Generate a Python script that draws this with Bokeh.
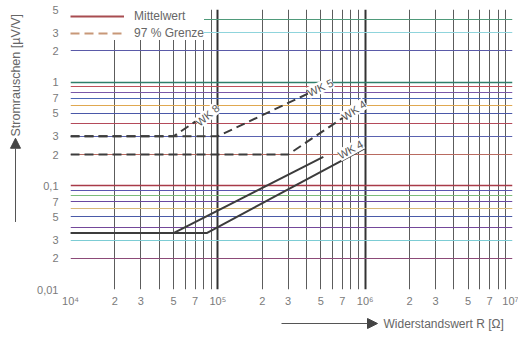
import math
from bokeh.plotting import figure
from bokeh.layouts import column, row
from bokeh.models import (FixedTicker, Grid, Legend, LegendItem, Arrow,
                          NormalHead, Range1d)
from bokeh.core.properties import value
from bokeh.embed import file_html
from bokeh.resources import INLINE

# ---------------- data ----------------
x_ticks = [1e4, 2e4, 3e4, 5e4, 7e4, 1e5, 2e5, 3e5, 5e5, 7e5,
           1e6, 2e6, 3e6, 5e6, 7e6, 1e7]
x_tick_labels = ["10⁴", "2", "3", "5", "7", "10⁵", "2", "3", "5", "7",
                 "10⁶", "2", "3", "5", "7", "10⁷"]
y_ticks = [5, 3, 2, 1, 0.7, 0.5, 0.3, 0.2, 0.1, 0.07, 0.05, 0.03, 0.02, 0.01]
y_tick_labels = ["5", "3", "2", "1", "7", "5", "3", "2", "0,1",
                 "7", "5", "3", "2", "0,01"]

x_grid_minor = [2e4, 3e4, 4e4, 5e4, 6e4, 7e4, 8e4, 9e4,
                2e5, 3e5, 4e5, 5e5, 6e5, 7e5, 8e5, 9e5,
                2e6, 3e6, 4e6, 5e6, 6e6, 7e6, 8e6, 9e6]
x_grid_decades = [1e5, 1e6]

y_grid_vals = [4, 3, 2, 1, 0.9, 0.8, 0.7, 0.6, 0.5, 0.4, 0.3, 0.2,
               0.1, 0.09, 0.08, 0.07, 0.06, 0.05, 0.04, 0.03, 0.02]
y_grid_colors = ["#4f9a7a", "#8fd4dc", "#5a5aa8", "#2f7f6a", "#c0505a",
                 "#7a58a8", "#4a66b4", "#e0a850", "#4a58a8", "#b44a5a",
                 "#5a62b0", "#b86a60", "#a83a48", "#5a56b0", "#7cbc7c",
                 "#6a48a0", "#d8b878", "#4a5aa8", "#74489a", "#7cccd4",
                 "#8c4a78"]

# curves (R in Ohm, noise in uV/V)
wk8_97_x = [1e4, 5e4, 1e5]
wk8_97_y = [0.3, 0.3, 0.58]
wk5_97_x = [1e4, 1e5, 6e5]
wk5_97_y = [0.3, 0.3, 1.0]
wk4_97_x = [1e4, 3e5, 1e6]
wk4_97_y = [0.2, 0.2, 0.63]
mean_a_x = [1e4, 5e4, 5.2e5]
mean_a_y = [0.035, 0.035, 0.19]
wk4_mean_x = [1e4, 8.4e4, 1e6]
wk4_mean_y = [0.035, 0.035, 0.23]

y_title = "Stromrauschen [µV/V]"
x_title = "Widerstandswert R [Ω]"

FONT = "Liberation Sans"
TXT = "#666666"

# ---------------- main chart ----------------
MW, MH = 484, 311
p = figure(width=MW, height=MH, x_axis_type="log", y_axis_type="log",
           x_range=(1e4, 1e7), y_range=(0.01, 5),
           output_backend="svg", toolbar_location=None,
           min_border_left=36, min_border_right=6, min_border_top=9,
           min_border_bottom=22)
p.background_fill_color = "white"
p.border_fill_color = "white"
p.outline_line_color = None
p.xgrid.grid_line_color = None
p.ygrid.grid_line_color = None

p.add_layout(Grid(dimension=0, ticker=FixedTicker(ticks=x_grid_minor),
                  grid_line_color="#5c5c5c", grid_line_width=1))
p.add_layout(Grid(dimension=0, ticker=FixedTicker(ticks=x_grid_decades),
                  grid_line_color="#333333", grid_line_width=2))
p.add_layout(Grid(dimension=0, ticker=FixedTicker(ticks=[1e4]),
                  grid_line_color="#444444", grid_line_width=3))
p.add_layout(Grid(dimension=0, ticker=FixedTicker(ticks=[1e7]),
                  grid_line_color="#777777", grid_line_width=3))
for v, c in zip(y_grid_vals, y_grid_colors):
    w = 1.6 if v in (1, 0.1) else 1
    p.add_layout(Grid(dimension=1, ticker=FixedTicker(ticks=[v]),
                      grid_line_color=c, grid_line_width=w))
p.add_layout(Grid(dimension=1, ticker=FixedTicker(ticks=[5]),
                  grid_line_color="#b84a5a", grid_line_width=3))
p.add_layout(Grid(dimension=1, ticker=FixedTicker(ticks=[0.01]),
                  grid_line_color="#55609a", grid_line_width=3))

for ax, ticks, labels in ((p.xaxis[0], x_ticks, x_tick_labels),
                          (p.yaxis[0], y_ticks, y_tick_labels)):
    ax.ticker = FixedTicker(ticks=ticks)
    ax.major_label_overrides = dict(zip(ticks, labels))
    ax.axis_line_color = None
    ax.major_tick_line_color = None
    ax.minor_tick_line_color = None
    ax.major_tick_out = 0
    ax.major_tick_in = 0
    ax.minor_tick_out = 0
    ax.minor_tick_in = 0
    ax.major_label_text_font = FONT
    ax.major_label_text_font_size = "11px"
    ax.major_label_text_color = "#7a7a7a"
p.yaxis.major_label_standoff = 12
p.xaxis.major_label_standoff = 5

dash = "9 5"
line_col = "#3c3c3c"
p.line(wk8_97_x, wk8_97_y, line_color=line_col, line_width=2, line_dash=dash)
p.line(wk5_97_x, wk5_97_y, line_color=line_col, line_width=2, line_dash=dash)
p.line(wk4_97_x, wk4_97_y, line_color=line_col, line_width=2, line_dash=dash)
p.line(mean_a_x, mean_a_y, line_color=line_col, line_width=2)
p.line(wk4_mean_x, wk4_mean_y, line_color=line_col, line_width=2)

lab_style = dict(text_font=value(FONT), text_font_size="11px", text_color="#555555",
                 text_align="right", background_fill_color="white")
p.text(x=[wk8_97_x[-1]], y=[wk8_97_y[-1]], text=["WK 8"], angle=math.radians(40),
       text_baseline="middle", **lab_style)
p.text(x=[wk5_97_x[-1]], y=[wk5_97_y[-1]], text=["WK 5"], angle=math.radians(25),
       text_baseline="middle", **lab_style)
p.text(x=[wk4_97_x[-1]], y=[wk4_97_y[-1]], text=["WK 4"], angle=math.radians(34),
       text_baseline="middle", **lab_style)
p.text(x=[wk4_mean_x[-1]], y=[wk4_mean_y[-1]], text=["WK 4"], angle=math.radians(29),
       text_baseline="bottom", **lab_style)

nan = float("nan")
leg_mean = p.line(x=[nan], y=[nan], line_color="#a84c50", line_width=2)
leg_97 = p.line(x=[nan], y=[nan], line_color="#c89878", line_width=2, line_dash=dash)
legend = Legend(items=[LegendItem(label="Mittelwert", renderers=[leg_mean]),
                       LegendItem(label="97 % Grenze", renderers=[leg_97])],
                location="top_left", margin=0, padding=7, spacing=3,
                glyph_width=54, glyph_height=12, label_height=12,
                label_standoff=10, label_text_font=FONT,
                label_text_font_size="12px", label_text_color=TXT,
                background_fill_color="white", background_fill_alpha=1.0,
                border_line_color=None)
p.add_layout(legend)

# ---------------- left strip: y title + arrow ----------------
LW, LH = 34, MH
pl = figure(width=LW, height=LH, x_range=Range1d(0, LW), y_range=Range1d(LH, 0),
            x_axis_location=None, y_axis_location=None,
            output_backend="svg", toolbar_location=None, min_border=0)
pl.grid.visible = False
pl.outline_line_color = None
pl.text(x=[15], y=[73], text=[y_title], angle=math.pi / 2,
        text_align="center", text_baseline="middle",
        text_font=value(FONT), text_font_size="12.5px", text_color=TXT)
pl.add_layout(Arrow(x_start=15, y_start=236, x_end=15, y_end=143,
                    line_color="#555555", line_width=1,
                    end=NormalHead(size=10, fill_color="#444444",
                                   line_color="#444444")))

# ---------------- bottom strip: x title + arrow ----------------
BW, BH = 518, 23
pb = figure(width=BW, height=BH, x_range=Range1d(0, BW), y_range=Range1d(BH, 0),
            x_axis_location=None, y_axis_location=None,
            output_backend="svg", toolbar_location=None, min_border=0)
pb.grid.visible = False
pb.outline_line_color = None
pb.add_layout(Arrow(x_start=281, y_start=12, x_end=377, y_end=12,
                    line_color="#555555", line_width=1,
                    end=NormalHead(size=10, fill_color="#444444",
                                   line_color="#444444")))
pb.text(x=[383], y=[12], text=[x_title], text_align="left",
        text_baseline="middle", text_font=value(FONT),
        text_font_size="12px", text_color=TXT)

layout = column(row(pl, p, spacing=0), pb, spacing=0)
open("out.html", "w").write(file_html(layout, INLINE))
